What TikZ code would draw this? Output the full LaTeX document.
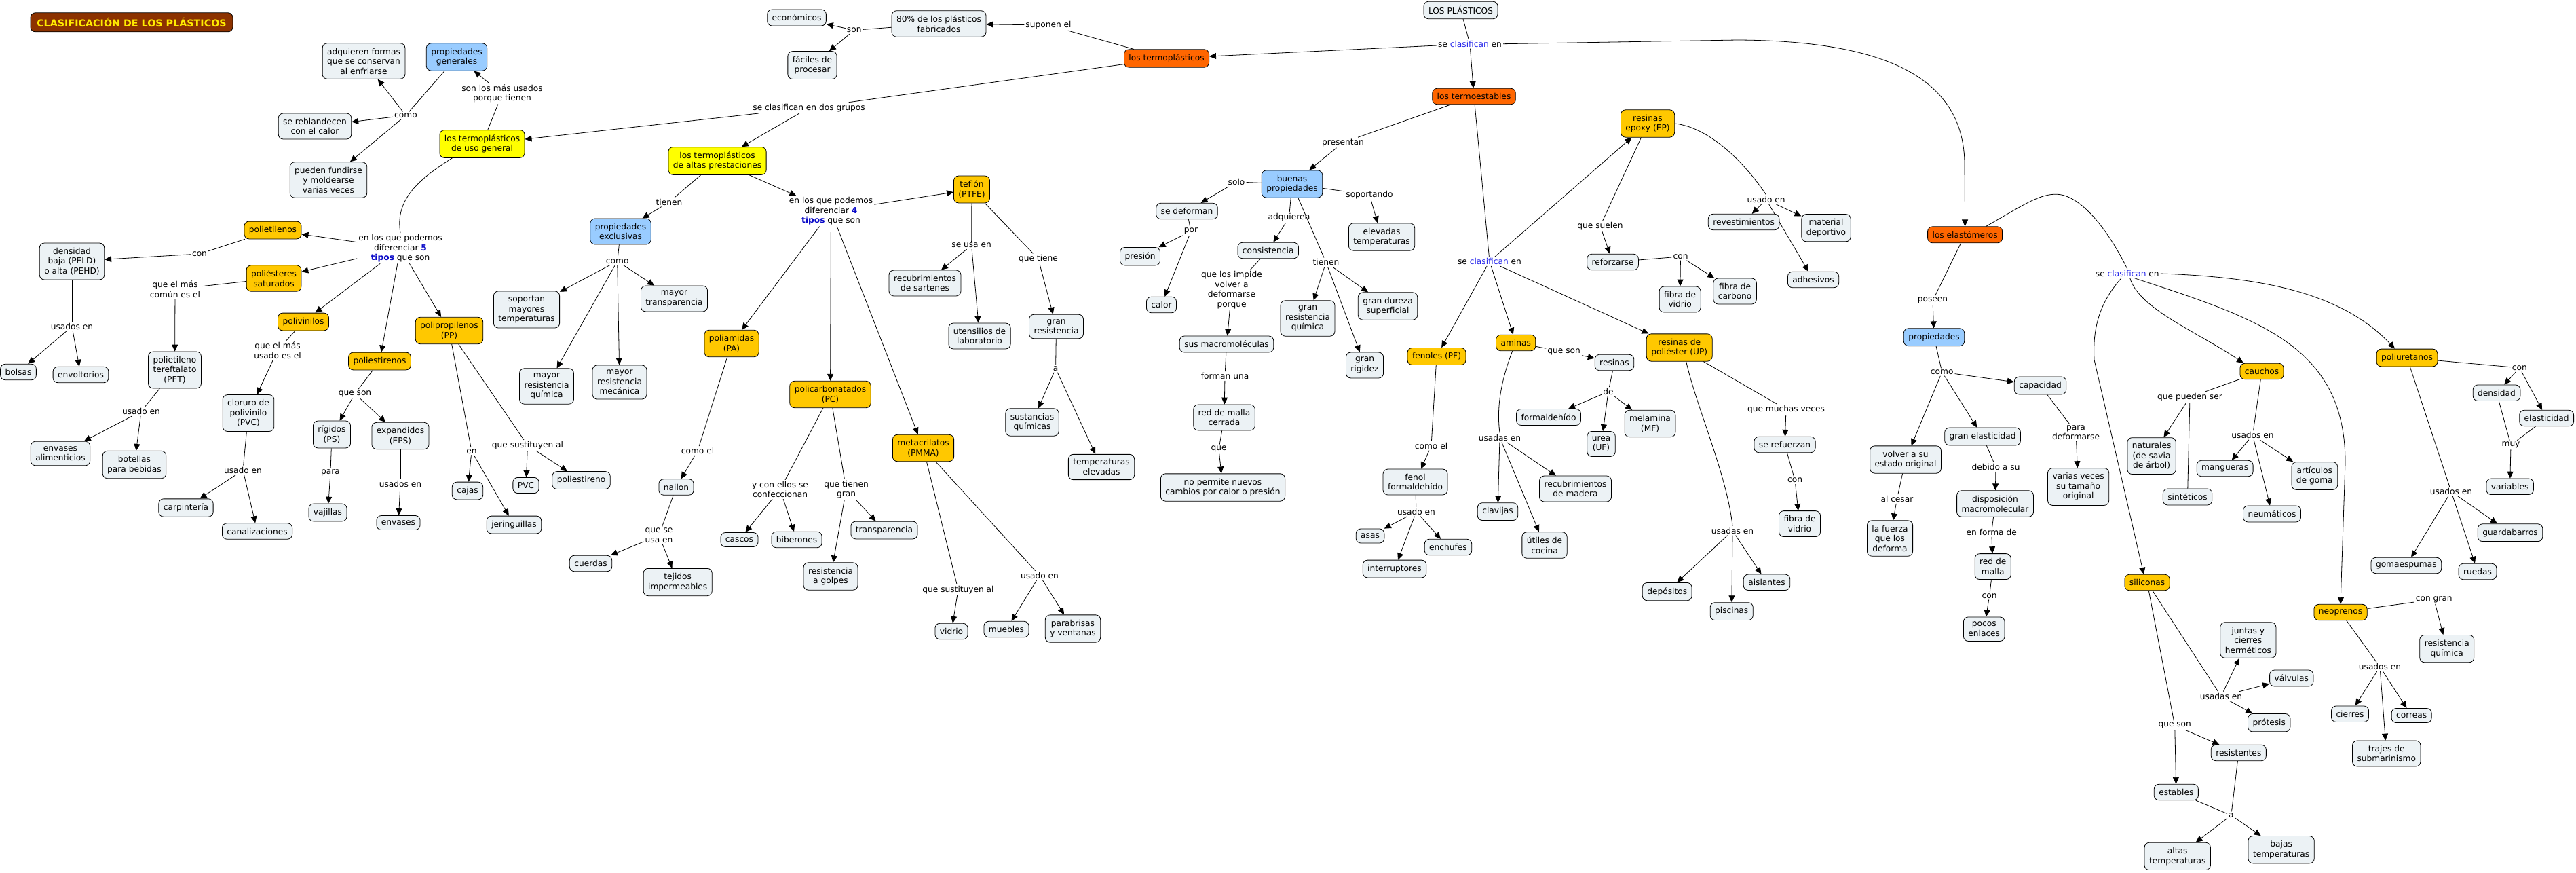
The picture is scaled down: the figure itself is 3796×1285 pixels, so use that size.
\documentclass[tikz,border=0pt]{standalone}
\usepackage{fontspec}
\setmainfont{DejaVu Sans}
\usetikzlibrary{arrows.meta,backgrounds}
\definecolor{cfill}{RGB}{236,242,245}
\definecolor{corange}{RGB}{255,102,0}
\definecolor{cyel}{RGB}{255,255,0}
\definecolor{cgold}{RGB}{255,200,0}
\definecolor{cblue}{RGB}{153,204,255}
\definecolor{lb}{RGB}{40,40,235}
\definecolor{bb}{RGB}{10,10,200}
\definecolor{tbrown}{RGB}{140,50,0}
\definecolor{tyel}{RGB}{255,235,0}
\newcommand{\mapfont}{\fontsize{12.2}{14.5}\selectfont}
\newcommand{\clas}{se \textcolor{lb}{clasifican} en}
\begin{document}
\begin{tikzpicture}[x=1pt,y=-1pt,
  cpt/.style={draw=black, line width=0.8pt, rounded corners=7pt, fill=cfill, align=center, inner xsep=7pt, inner ysep=7pt, font=\mapfont},
  ora/.style={cpt, fill=corange},
  yel/.style={cpt, fill=cyel},
  gld/.style={cpt, fill=cgold},
  blu/.style={cpt, fill=cblue},
  lbl/.style={align=center, inner sep=2pt, font=\mapfont},
  arr/.style={-{Triangle[length=10pt,width=9pt]}, line width=0.8pt},
  ln/.style={line width=0.8pt},
  ttl/.style={draw=black, line width=0.8pt, rounded corners=7pt, fill=tbrown, text=tyel, font=\fontsize{14.3}{16}\selectfont\bfseries, minimum width=298pt, minimum height=28pt, inner sep=2pt}
]
\useasboundingbox (0,0) rectangle (3796,1285);

% ---------- title and top ----------
\node[ttl] (title) at (194,32.8) {CLASIFICACIÓN DE LOS PLÁSTICOS};
\node[cpt] (plast) at (2152.5,15) {LOS PLÁSTICOS};
\node[lbl] (lclas) at (2166,64.7) {\clas};
\node[ora] (tplas) at (1719,86) {los termoplásticos};
\node[ora] (testab) at (2172,142) {los termoestables};
\node[ora] (elast) at (2895.6,345.8) {los elastómeros};
\node[lbl] (suponen) at (1545,37) {suponen el};
\node[cpt] (p80) at (1383.5,35) {80\% de los plásticos\\fabricados};
\node[lbl] (son1) at (1258.7,44.4) {son};
\node[cpt] (econ) at (1174,26) {económicos};
\node[cpt] (facil) at (1197,96) {fáciles de\\procesar};
\node[lbl] (dosgr) at (1192,158.8) {se clasifican en dos grupos};

% ---------- termoplasticos de uso general ----------
\node[yel] (usogen) at (710.5,212) {los termoplásticos\\de uso general};
\node[lbl] (masus) at (740,138) {son los más usados\\porque tienen};
\node[blu] (propgen) at (673,84) {propiedades\\generales};
\node[lbl] (como1) at (598,170) {como};
\node[cpt] (adq) at (536,90) {adquieren formas\\que se conservan\\al enfriarse};
\node[cpt] (rebl) at (464,186) {se reblandecen\\con el calor};
\node[cpt] (fund) at (484,265) {pueden fundirse\\y moldearse\\varias veces};
\node[lbl] (dif5) at (590,365.7) {en los que podemos\\diferenciar \textcolor{bb}{\textbf{5}}\\\textcolor{bb}{\textbf{tipos}} que son};
\node[gld] (pe) at (402,339) {polietilenos};
\node[cpt] (dens) at (106,385) {densidad\\baja (PELD)\\o alta (PEHD)};
\node[lbl] (con1) at (294,374) {con};
\node[gld] (pes) at (403.5,410) {poliésteres\\saturados};
\node[lbl] (comun) at (258,426) {que el más\\común es el};
\node[lbl] (usa1) at (106,481) {usados en};
\node[cpt] (bolsas) at (27,548) {bolsas};
\node[cpt] (envolt) at (119,552) {envoltorios};
\node[gld] (pv) at (447,474) {polivinilos};
\node[lbl] (masusado) at (409,516) {que el más\\usado es el};
\node[cpt] (pet) at (257.5,545) {polietileno\\tereftalato\\(PET)};
\node[lbl] (usa2) at (208,606) {usado en};
\node[cpt] (envali) at (89,668) {envases\\alimenticios};
\node[cpt] (botel) at (198,684.5) {botellas\\para bebidas};
\node[cpt] (pvc) at (366,608.5) {cloruro de\\polivinilo\\(PVC)};
\node[lbl] (usa3) at (358,692.6) {usado en};
\node[cpt] (carp) at (274,748) {carpintería};
\node[cpt] (canal) at (379,782.5) {canalizaciones};
\node[gld] (pp) at (662,487) {polipropilenos\\(PP)};
\node[gld] (ps) at (559.5,532) {poliestirenos};
\node[lbl] (queson1) at (523,580) {que son};
\node[cpt] (rig) at (489,640) {rígidos\\(PS)};
\node[cpt] (eps) at (590,642) {expandidos\\(EPS)};
\node[lbl] (para) at (487,696) {para};
\node[cpt] (vaj) at (483,755) {vajillas};
\node[lbl] (usa4) at (590,713) {usados en};
\node[cpt] (envases) at (587,770) {envases};
\node[lbl] (en1) at (695,664.7) {en};
\node[cpt] (cajas) at (689,723) {cajas};
\node[cpt] (jer) at (757.5,773) {jeringuillas};
\node[lbl] (sust1) at (777.5,656) {que sustituyen al};
\node[cpt] (pvc2) at (775,715) {PVC};
\node[cpt] (poliest) at (856.5,707.5) {poliestireno};

% ---------- altas prestaciones ----------
\node[yel] (altas) at (1057,237) {los termoplásticos\\de altas prestaciones};
\node[lbl] (tienen1) at (986,297.7) {tienen};
\node[blu] (propexc) at (914.5,341) {propiedades\\exclusivas};
\node[lbl] (como2) at (909.7,384.7) {como};
\node[cpt] (sop) at (776,456) {soportan\\mayores\\temperaturas};
\node[cpt] (mrq) at (805.5,569) {mayor\\resistencia\\química};
\node[cpt] (mrm) at (913,563) {mayor\\resistencia\\mecánica};
\node[cpt] (mtr) at (993.5,440) {mayor\\transparencia};
\node[lbl] (dif4) at (1224.5,311) {en los que podemos\\diferenciar \textcolor{bb}{\textbf{4}}\\\textcolor{bb}{\textbf{tipos}} que son};
\node[gld] (teflon) at (1432,279) {teflón\\(PTFE)};
\node[lbl] (seusa) at (1431.6,361.5) {se usa en};
\node[cpt] (recsar) at (1363,417) {recubrimientos\\de sartenes};
\node[cpt] (utens) at (1443.5,495) {utensilios de\\laboratorio};
\node[lbl] (quetiene) at (1530,381.4) {que tiene};
\node[cpt] (granres) at (1556.5,481) {gran\\resistencia};
\node[lbl] (a1) at (1555.6,543) {a};
\node[cpt] (sustq) at (1521,622) {sustancias\\químicas};
\node[cpt] (tempel) at (1623,688) {temperaturas\\elevadas};
\node[gld] (pa) at (1078,506) {poliamidas\\(PA)};
\node[lbl] (comoel1) at (1028,664) {como el};
\node[cpt] (nailon) at (996.5,717.5) {nailon};
\node[lbl] (queseusa) at (971,788.7) {que se\\usa en};
\node[cpt] (cuerdas) at (870.5,830) {cuerdas};
\node[cpt] (tejidos) at (998.7,857.5) {tejidos\\impermeables};
\node[gld] (pc) at (1223.5,581) {policarbonatados\\(PC)};
\node[lbl] (confec) at (1149.5,721) {y con ellos se\\confeccionan};
\node[lbl] (quetienen) at (1247,721) {que tienen\\gran};
\node[cpt] (cascos) at (1089.5,795) {cascos};
\node[cpt] (biber) at (1174,795) {biberones};
\node[cpt] (transp) at (1303,781) {transparencia};
\node[cpt] (golpes) at (1224,849) {resistencia\\a golpes};
\node[gld] (pmma) at (1360.5,660) {metacrilatos\\(PMMA)};
\node[lbl] (sust2) at (1412,868.7) {que sustituyen al};
\node[lbl] (usa5) at (1532,847.7) {usado en};
\node[cpt] (vidrio) at (1402,930) {vidrio};
\node[cpt] (muebles) at (1483,927) {muebles};
\node[cpt] (parab) at (1581,926) {parabrisas\\y ventanas};

% ---------- termoestables ----------
\node[lbl] (presentan) at (1979,210) {presentan};
\node[blu] (buenas) at (1904,271) {buenas\\propiedades};
\node[lbl] (solo) at (1822,268) {solo};
\node[cpt] (sedef) at (1749,311) {se deforman};
\node[lbl] (por) at (1755,340.8) {por};
\node[cpt] (presion) at (1680,377.7) {presión};
\node[cpt] (calor) at (1711.5,449) {calor};
\node[lbl] (soport) at (2018,287) {soportando};
\node[cpt] (elevt) at (2036,349) {elevadas\\temperaturas};
\node[lbl] (adquieren) at (1899.5,320.5) {adquieren};
\node[cpt] (consist) at (1868.7,369) {consistencia};
\node[lbl] (impide) at (1815,427) {que los impide\\volver a\\deformarse\\porque};
\node[cpt] (macro) at (1807.5,507) {sus macromoléculas};
\node[lbl] (forman) at (1805,554) {forman una};
\node[cpt] (redmc) at (1804,615) {red de malla\\cerrada};
\node[lbl] (que1) at (1796,661.6) {que};
\node[cpt] (nopermite) at (1802,718) {no permite nuevos\\cambios por calor o presión};
\node[lbl] (tienen2) at (1954,386.4) {tienen};
\node[cpt] (grq) at (1927,469) {gran\\resistencia\\química};
\node[cpt] (gdur) at (2045,451) {gran dureza\\superficial};
\node[cpt] (grig) at (2011,538) {gran\\rigidez};
\node[lbl] (clas2) at (2195,385) {\clas};
\node[gld] (fenoles) at (2117,525) {fenoles (PF)};
\node[lbl] (comoel2) at (2109,656.8) {como el};
\node[cpt] (fenolf) at (2085.5,710) {fenol\\formaldehído};
\node[lbl] (usa6) at (2087,753.8) {usado en};
\node[cpt] (asas) at (2019,789.5) {asas};
\node[cpt] (enchufes) at (2134,806) {enchufes};
\node[cpt] (interr) at (2055,838) {interruptores};
\node[gld] (aminas) at (2233.7,505) {aminas};
\node[lbl] (usadas1) at (2210,644.6) {usadas en};
\node[cpt] (clavijas) at (2207,753.6) {clavijas};
\node[cpt] (utiles) at (2276,803) {útiles de\\cocina};
\node[cpt] (recmad) at (2321.5,720) {recubrimientos\\de madera};
\node[lbl] (queson2) at (2304.6,518) {que son};
\node[cpt] (resinas) at (2379,534) {resinas};
\node[lbl] (de1) at (2370,577) {de};
\node[cpt] (formal) at (2282,614.5) {formaldehído};
\node[cpt] (urea) at (2359.5,654) {urea\\(UF)};
\node[cpt] (melam) at (2431.5,624) {melamina\\(MF)};
\node[gld] (ep) at (2428,182) {resinas\\epoxy (EP)};
\node[lbl] (suelen) at (2358,333) {que suelen};
\node[cpt] (reforz) at (2376.5,386) {reforzarse};
\node[lbl] (con2) at (2476.5,378) {con};
\node[cpt] (fv1) at (2475.6,441) {fibra de\\vidrio};
\node[cpt] (fc) at (2556.6,429) {fibra de\\carbono};
\node[lbl] (usa7) at (2602.6,294) {usado en};
\node[cpt] (revest) at (2569.6,327) {revestimientos};
\node[cpt] (matdep) at (2691,335.7) {material\\deportivo};
\node[cpt] (adhes) at (2672,412) {adhesivos};
\node[gld] (up) at (2474.7,512) {resinas de\\poliéster (UP)};
\node[lbl] (muchas) at (2632,603) {que muchas veces};
\node[cpt] (serefuerzan) at (2630,655) {se refuerzan};
\node[lbl] (con3) at (2645,707.5) {con};
\node[cpt] (fv2) at (2652,771.6) {fibra de\\vidrio};
\node[lbl] (usadas2) at (2553,781.7) {usadas en};
\node[cpt] (depos) at (2456.7,871.6) {depósitos};
\node[cpt] (piscinas) at (2551.7,900.6) {piscinas};
\node[cpt] (aisl) at (2603.5,857.8) {aislantes};

% ---------- elastomeros ----------
\node[lbl] (poseen) at (2848,442.8) {poseen};
\node[blu] (prop) at (2850,496.7) {propiedades};
\node[lbl] (como3) at (2861.7,548) {como};
\node[cpt] (capac) at (3006.5,568) {capacidad};
\node[cpt] (gelast) at (2921.6,643) {gran elasticidad};
\node[cpt] (volver) at (2808,677) {volver a su\\estado original};
\node[lbl] (alcesar) at (2795.4,735) {al cesar};
\node[cpt] (fuerza) at (2785,793) {la fuerza\\que los\\deforma};
\node[lbl] (debido) at (2941,688) {debido a su};
\node[cpt] (dispos) at (2940,742) {disposición\\macromolecular};
\node[lbl] (enforma) at (2934.7,784) {en forma de};
\node[cpt] (redm) at (2936.7,834.6) {red de\\malla};
\node[lbl] (con4) at (2931.6,877.8) {con};
\node[cpt] (pocos) at (2923.7,926.7) {pocos\\enlaces};
\node[lbl] (parad) at (3059,637) {para\\deformarse};
\node[cpt] (varias) at (3062.6,717) {varias veces\\su tamaño\\original};
\node[lbl] (clas3) at (3134.8,403) {\clas};
\node[gld] (cauchos) at (3333,547) {cauchos};
\node[lbl] (pueden) at (3227,585) {que pueden ser};
\node[cpt] (natur) at (3170.6,671.6) {naturales\\(de savia\\de árbol)};
\node[cpt] (sint) at (3223.5,732) {sintéticos};
\node[lbl] (usa8) at (3319.5,641) {usados en};
\node[cpt] (mang) at (3278.6,690) {mangueras};
\node[cpt] (artic) at (3410.8,701) {artículos\\de goma};
\node[cpt] (neum) at (3348,757) {neumáticos};
\node[gld] (poliur) at (3547,527) {poliuretanos};
\node[lbl] (con5) at (3712.8,541.9) {con};
\node[cpt] (densid) at (3679,578.7) {densidad};
\node[cpt] (elastic) at (3752.6,616) {elasticidad};
\node[lbl] (muy) at (3700,655.5) {muy};
\node[cpt] (variab) at (3698.6,716.8) {variables};
\node[lbl] (usa9) at (3612,724) {usados en};
\node[cpt] (guard) at (3699,784.7) {guardabarros};
\node[cpt] (gomae) at (3545.8,833) {gomaespumas};
\node[cpt] (ruedas) at (3651,842) {ruedas};
\node[gld] (silic) at (3164,858) {siliconas};
\node[gld] (neop) at (3449,902) {neoprenos};
\node[lbl] (congran) at (3586.8,883) {con gran};
\node[cpt] (resq) at (3605.7,955.6) {resistencia\\química};
\node[lbl] (usa10) at (3507,982.3) {usados en};
\node[cpt] (cierres) at (3463,1051.7) {cierres};
\node[cpt] (correas) at (3553.6,1054) {correas};
\node[cpt] (trajes) at (3516.7,1110) {trajes de\\submarinismo};
\node[cpt] (juntas) at (3312.8,943) {juntas y\\cierres\\herméticos};
\node[cpt] (valv) at (3376.7,999) {válvulas};
\node[cpt] (protesis) at (3343.7,1064.7) {prótesis};
\node[lbl] (usadas3) at (3273,1025.5) {usadas en};
\node[lbl] (queson3) at (3204.7,1068.8) {que son};
\node[cpt] (resist) at (3298.8,1109) {resistentes};
\node[cpt] (estab) at (3206.8,1167) {estables};
\node[lbl] (a2) at (3287.8,1201) {a};
\node[cpt] (altasT) at (3208.7,1261.4) {altas\\temperaturas};
\node[cpt] (bajasT) at (3361.6,1251.7) {bajas\\temperaturas};

\begin{pgfonlayer}{background}
% top
\draw[ln] (plast) -- (lclas);
\draw[arr] (lclas) -- (tplas);
\draw[arr] (lclas) -- (testab);
\draw[arr] (lclas.east) -- (2560,59) .. controls (2770,60) and (2893,110) .. (2895,240) -- (elast.north);
\draw[ln] (tplas) -- (suponen);
\draw[arr] (suponen) -- (p80);
\draw[ln] (p80) -- (son1);
\draw[arr] (son1) -- (econ);
\draw[arr] (son1) -- (facil);
\draw[ln] (tplas) -- (dosgr);
\draw[arr] (dosgr) -- (usogen);
\draw[arr] (dosgr) -- (altas);
% uso general
\draw[ln] (usogen) -- (masus);
\draw[arr] (masus) -- (propgen);
\draw[ln] (propgen) -- (como1);
\draw[arr] (como1) -- (adq);
\draw[arr] (como1) -- (rebl);
\draw[arr] (como1) -- (fund);
\draw[ln] ([xshift=-44pt]usogen.south) .. controls (615,265) and (582,295) .. (dif5.north);
\draw[arr] (dif5) -- (pe);
\draw[arr] (dif5) -- (pes);
\draw[arr] (dif5) -- (pv);
\draw[arr] (dif5) -- (ps);
\draw[arr] (dif5) -- (pp);
\draw[ln] (pe) -- (con1);
\draw[arr] (con1) -- (dens);
\draw[ln] (dens) -- (usa1);
\draw[arr] (usa1) -- (bolsas);
\draw[arr] (usa1) -- (envolt);
\draw[ln] (pes) -- (comun);
\draw[arr] (comun) -- (pet);
\draw[ln] (pet) -- (usa2);
\draw[arr] (usa2) -- (envali);
\draw[arr] (usa2) -- (botel);
\draw[ln] (pv) -- (masusado);
\draw[arr] (masusado) -- (pvc);
\draw[ln] (pvc) -- (usa3);
\draw[arr] (usa3) -- (carp);
\draw[arr] (usa3) -- (canal);
\draw[ln] (ps) -- (queson1);
\draw[arr] (queson1) -- (rig);
\draw[arr] (queson1) -- (eps);
\draw[ln] (rig) -- (para);
\draw[arr] (para) -- (vaj);
\draw[ln] (eps) -- (usa4);
\draw[arr] (usa4) -- (envases);
\draw[ln] (pp) -- (en1);
\draw[arr] (en1) -- (cajas);
\draw[arr] (en1) -- (jer);
\draw[ln] (pp) -- (sust1);
\draw[arr] (sust1) -- (pvc2);
\draw[arr] (sust1) -- (poliest);
% altas prestaciones
\draw[ln] (altas) -- (tienen1);
\draw[arr] (tienen1) -- (propexc);
\draw[ln] (propexc) -- (como2);
\draw[arr] (como2) -- (sop);
\draw[arr] (como2) -- (mrq);
\draw[arr] (como2) -- (mrm);
\draw[arr] (como2) -- (mtr);
\draw[arr] (altas) -- (dif4);
\draw[arr] (dif4) -- (teflon);
\draw[arr] (dif4) -- (pa);
\draw[arr] (dif4) -- (pc);
\draw[arr] (dif4) -- (pmma);
\draw[ln] (teflon) -- (seusa);
\draw[arr] (seusa) -- (recsar);
\draw[arr] (seusa) -- (utens);
\draw[ln] (teflon) -- (quetiene);
\draw[arr] (quetiene) -- (granres);
\draw[ln] (granres) -- (a1);
\draw[arr] (a1) -- (sustq);
\draw[arr] (a1) -- (tempel);
\draw[ln] (pa) -- (comoel1);
\draw[arr] (comoel1) -- (nailon);
\draw[ln] (nailon) -- (queseusa);
\draw[arr] (queseusa) -- (cuerdas);
\draw[arr] (queseusa) -- (tejidos);
\draw[ln] (pc) -- (confec);
\draw[arr] (confec) -- (cascos);
\draw[arr] (confec) -- (biber);
\draw[ln] (pc) -- (quetienen);
\draw[arr] (quetienen) -- (transp);
\draw[arr] (quetienen) -- (golpes);
\draw[ln] (pmma) -- (sust2);
\draw[arr] (sust2) -- (vidrio);
\draw[ln] (pmma) -- (usa5);
\draw[arr] (usa5) -- (muebles);
\draw[arr] (usa5) -- (parab);
% termoestables
\draw[ln] (testab) -- (presentan);
\draw[arr] (presentan) -- (buenas);
\draw[ln] (buenas) -- (solo);
\draw[arr] (solo) -- (sedef);
\draw[ln] (sedef) -- (por);
\draw[arr] (por) -- (presion);
\draw[arr] (por) -- (calor);
\draw[ln] (buenas) -- (soport);
\draw[arr] (soport) -- (elevt);
\draw[ln] (buenas) -- (adquieren);
\draw[arr] (adquieren) -- (consist);
\draw[ln] (consist) -- (impide);
\draw[arr] (impide) -- (macro);
\draw[ln] (macro) -- (forman);
\draw[arr] (forman) -- (redmc);
\draw[ln] (redmc) -- (que1);
\draw[arr] (que1) -- (nopermite);
\draw[ln] (buenas) -- (tienen2);
\draw[arr] (tienen2) -- (grq);
\draw[arr] (tienen2) -- (gdur);
\draw[arr] (tienen2) -- (grig);
\draw[ln] (testab) -- (clas2);
\draw[arr] (clas2) -- (ep);
\draw[arr] (clas2) -- (fenoles);
\draw[arr] (clas2) -- (aminas);
\draw[arr] (clas2) -- (up);
\draw[ln] (fenoles) -- (comoel2);
\draw[arr] (comoel2) -- (fenolf);
\draw[ln] (fenolf) -- (usa6);
\draw[arr] (usa6) -- (asas);
\draw[arr] (usa6) -- (interr);
\draw[arr] (usa6) -- (enchufes);
\draw[ln] (aminas) -- (queson2);
\draw[arr] (queson2) -- (resinas);
\draw[ln] (resinas) -- (de1);
\draw[arr] (de1) -- (formal);
\draw[arr] (de1) -- (urea);
\draw[arr] (de1) -- (melam);
\draw[ln] ([xshift=-5pt]aminas.south) .. controls (2212,560) and (2205,600) .. (usadas1.north);
\draw[arr] (usadas1) -- (clavijas);
\draw[arr] (usadas1) -- (utiles);
\draw[arr] (usadas1) -- (recmad);
\draw[ln] (ep) -- (suelen);
\draw[arr] (suelen) -- (reforz);
\draw[ln] (reforz) -- (con2);
\draw[arr] (con2) -- (fv1);
\draw[arr] (con2) -- (fc);
\draw[ln] (ep.east) .. controls (2522,188) and (2575,245) .. (usa7.north);
\draw[arr] (usa7) -- (revest);
\draw[arr] (usa7) -- (matdep);
\draw[arr] (usa7) -- (adhes);
\draw[ln] (up) -- (muchas);
\draw[arr] (muchas) -- (serefuerzan);
\draw[ln] (serefuerzan) -- (con3);
\draw[arr] (con3) -- (fv2);
\draw[ln] ([xshift=10pt]up.south) .. controls (2500,600) and (2545,700) .. (usadas2.north);
\draw[arr] (usadas2) -- (depos);
\draw[arr] (usadas2) -- (piscinas);
\draw[arr] (usadas2) -- (aisl);
% elastomeros
\draw[ln] (elast) -- (poseen);
\draw[arr] (poseen) -- (prop);
\draw[ln] (prop) -- (como3);
\draw[arr] (como3) -- (volver);
\draw[arr] (como3) -- (gelast);
\draw[arr] (como3) -- (capac);
\draw[ln] (volver) -- (alcesar);
\draw[arr] (alcesar) -- (fuerza);
\draw[ln] (gelast) -- (debido);
\draw[arr] (debido) -- (dispos);
\draw[ln] (dispos) -- (enforma);
\draw[arr] (enforma) -- (redm);
\draw[ln] (redm) -- (con4);
\draw[arr] (con4) -- (pocos);
\draw[ln] (capac) -- (parad);
\draw[arr] (parad) -- (varias);
\draw[ln] ([xshift=31pt]elast.north) .. controls (2985,300) and (3010,282) .. (3038,287) .. controls (3075,295) and (3112,350) .. (clas3.north);
\draw[arr] ([xshift=4pt]clas3.south) .. controls (3152,455) and (3240,490) .. ([xshift=-27pt]cauchos.north);
\draw[arr] (clas3.east) .. controls (3330,408) and (3450,430) .. ([xshift=-18pt]poliur.north);
\draw[arr] ([xshift=-9pt]clas3.south) .. controls (3090,450) and (3084,490) .. (3086,530) -- ([xshift=-5pt]silic.north);
\draw[arr] ([xshift=11pt]clas3.south) .. controls (3330,470) and (3455,510) .. (3456,680) -- (neop.north);
\draw[ln] (cauchos) -- (pueden);
\draw[arr] (pueden) -- (natur);
\draw[ln] (pueden) -- (sint);
\draw[ln] (cauchos) -- (usa8);
\draw[arr] (usa8) -- (mang);
\draw[arr] (usa8) -- (artic);
\draw[arr] (usa8) -- (neum);
\draw[ln] (poliur) -- (con5);
\draw[arr] (con5) -- (densid);
\draw[arr] (con5) -- (elastic);
\draw[ln] (densid) -- (muy);
\draw[ln] (elastic) -- (muy);
\draw[arr] (muy) -- (variab);
\draw[ln] (poliur) -- (usa9);
\draw[arr] (usa9) -- (gomae);
\draw[arr] (usa9) -- (ruedas);
\draw[arr] (usa9) -- (guard);
\draw[ln] (silic) -- (usadas3);
\draw[arr] (usadas3) -- (juntas);
\draw[arr] (usadas3) -- (valv);
\draw[arr] (usadas3) -- (protesis);
\draw[ln] (silic) -- (queson3);
\draw[arr] (queson3) -- (estab);
\draw[arr] (queson3) -- (resist);
\draw[ln] (estab) -- (a2);
\draw[ln] (resist) -- (a2);
\draw[arr] (a2) -- (altasT);
\draw[arr] (a2) -- (bajasT);
\draw[ln] (neop) -- (congran);
\draw[arr] (congran) -- (resq);
\draw[ln] (neop) -- (usa10);
\draw[arr] (usa10) -- (cierres);
\draw[arr] (usa10) -- (correas);
\draw[arr] (usa10) -- (trajes);
\end{pgfonlayer}
\end{tikzpicture}
\end{document}
